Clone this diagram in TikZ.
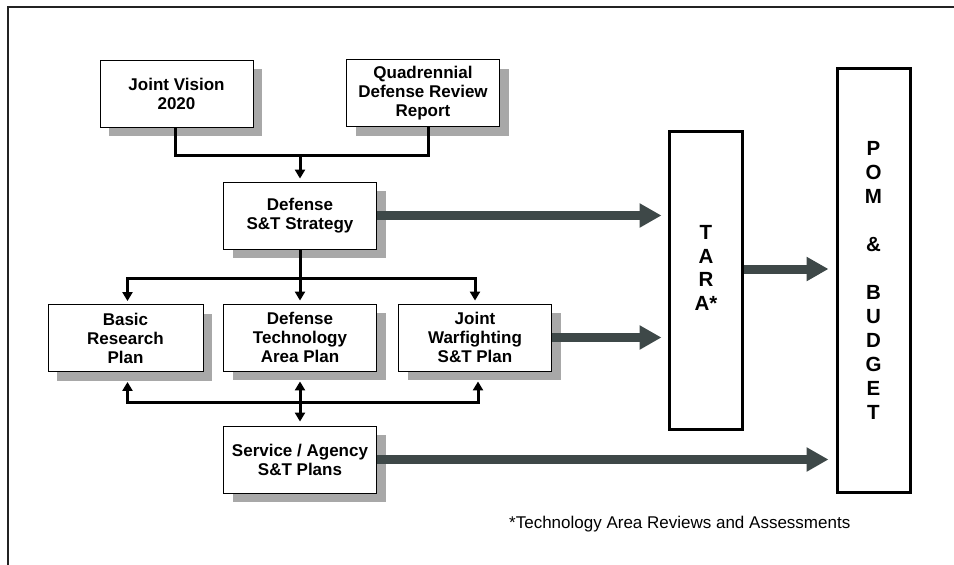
\documentclass[tikz,border=0pt]{standalone}
\usepackage{fontspec}
\setmainfont{Liberation Sans}
\usetikzlibrary{arrows.meta,shadows,calc}
\definecolor{shadowgray}{RGB}{168,168,168}
\definecolor{arrowgray}{RGB}{62,72,72}
\definecolor{framegray}{RGB}{35,35,35}
\begin{document}
\begin{tikzpicture}[x=1pt,y=-1pt,
  box/.style={draw=black, line width=0.9pt, fill=white, minimum width=153pt, minimum height=67pt,
    inner sep=0pt, align=center, font=\bfseries\fontsize{17}{19}\selectfont,
    drop shadow={shadow xshift=9pt, shadow yshift=-9pt, fill=shadowgray, opacity=1}},
  tallbox/.style={draw=black, line width=3pt, fill=white, minimum width=73pt, inner sep=0pt,
    align=center, font=\bfseries\fontsize{20.5}{24}\selectfont},
  talltext/.style={align=center, inner sep=0pt, font=\bfseries\fontsize{20.5}{23.5}\selectfont},
  conn/.style={line width=3pt, -{Triangle[length=9pt,width=10pt]}},
  plain/.style={line width=3pt},
  big/.style={line width=9pt, draw=arrowgray, -{Triangle[length=22pt,width=23pt]}},
  frameline/.style={line width=2.5pt, draw=framegray}
]
\useasboundingbox (0,0) rectangle (954,565);
\draw[frameline] (954,7) -- (8,7) -- (8,565);

\node[box] (jv) at (176.5,93.5) {Joint Vision\\2020};
\node[box] (qdr) at (423,93) {Quadrennial\\Defense Review\\Report};
\node[box] (dss) at (300,215.5) {Defense\\S\&T Strategy};
\node[box, minimum width=155pt] (brp) at (125.5,338) {Basic\\Research\\Plan};
\node[box] (dtap) at (300,337.5) {Defense\\Technology\\Area Plan};
\node[box] (jwp) at (475,337.5) {Joint\\Warfighting\\S\&T Plan};
\node[box] (sap) at (300,459.5) {Service / Agency\\S\&T Plans};

\node[tallbox, minimum height=298pt] (tara) at (706,280.5) {};
\node[talltext] (taratext) at (706,268) {T\\A\\R\\A*};
\node[tallbox, minimum height=424pt] (pom) at (873.5,280.5)
  {P\\O\\M\\[24pt]\&\\[24pt]B\\U\\D\\G\\E\\T};

\coordinate (b1) at (300,155);
\draw[plain] ([xshift=-1pt]jv.south) |- (b1) -| ([xshift=5pt]qdr.south);
\draw[conn, shorten >=3pt] (b1) -- (dss.north);

\coordinate (b2) at (300,278);
\draw[plain] (dss.south) -- (b2);
\draw[conn, shorten >=3pt] (b2) -| ([xshift=2pt]brp.north);
\draw[conn, shorten >=3pt] (b2) -- (dtap.north);
\draw[conn, shorten >=3pt] (b2) -| (jwp.north);

\coordinate (b3) at (300,402);
\draw[conn, shorten >=10pt] (b3) -| ([xshift=2pt]brp.south);
\draw[conn, shorten >=10pt] (b3) -| ([xshift=3pt]jwp.south);
\draw[line width=3pt, {Triangle[length=9pt,width=10pt]}-{Triangle[length=9pt,width=10pt]},
  shorten <=10pt, shorten >=4pt] (dtap.south) -- (sap.north);

\draw[big, shorten >=6.5pt] (dss.east) -- (dss.east -| tara.west);
\draw[big, shorten >=6.5pt] (jwp.east) -- (jwp.east -| tara.west);
\coordinate (t1) at ($(tara.east)+(0,-11.5)$);
\draw[big, shorten >=7pt] (t1) -- (t1 -| pom.west);
\draw[big, shorten >=7pt] (sap.east) -- (sap.east -| pom.west);

\node[anchor=base west, inner sep=0pt, font=\fontsize{17}{19}\selectfont] (note) at (509,528)
  {*Technology Area Reviews and Assessments};
\end{tikzpicture}
\end{document}
